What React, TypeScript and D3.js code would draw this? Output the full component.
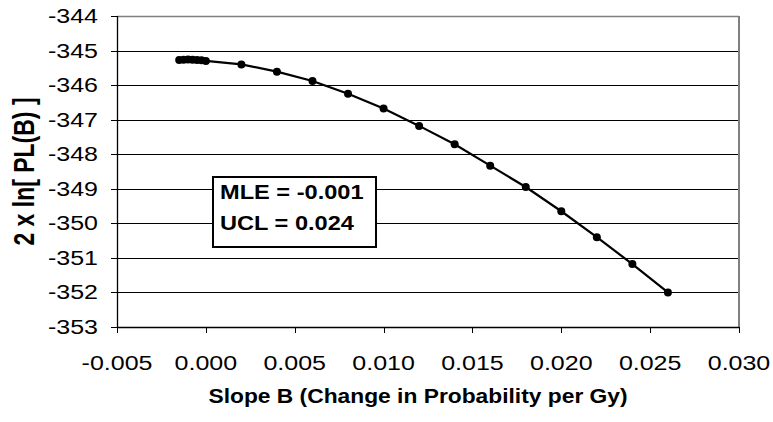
import React from "react";
import * as d3 from "d3";

const slopeB = [-0.0015, -0.00125, -0.001, -0.00075, -0.0005, -0.00025, 0, 0.002, 0.004, 0.006, 0.008, 0.01, 0.012, 0.014, 0.016, 0.018, 0.02, 0.022, 0.024, 0.026];
const logPL = [-345.27, -345.265, -345.26, -345.265, -345.27, -345.28, -345.3, -345.4, -345.61, -345.88, -346.25, -346.68, -347.18, -347.71, -348.33, -348.95, -349.65, -350.4, -351.18, -352.0];
const xTicks = [-0.005, 0, 0.005, 0.01, 0.015, 0.02, 0.025, 0.03];
const yTicks = [-344, -345, -346, -347, -348, -349, -350, -351, -352, -353];
const boxLines = ["MLE = -0.001", "UCL = 0.024"];
const xTitle = "Slope B (Change in Probability per Gy)";
const yTitle = "2 x ln[ PL(B) ]";

const W = 773, H = 422;
const L = 117, R = 739, T = 16, B = 327;
const SX = 1.25;
const FONT = "Arial, 'Liberation Sans', sans-serif";

export default function App() {
  const x = d3.scaleLinear().domain([-0.005, 0.03]).range([L, R]);
  const y = d3.scaleLinear().domain([-353, -344]).range([B, T]);
  const pts = slopeB.map((v, i) => [x(v), y(logPL[i])] as [number, number]);
  const line = d3.line().curve(d3.curveLinear)(pts) || "";
  const fmtX = (v: number) => (Math.abs(v) < 1e-12 ? "0.000" : v.toFixed(3));

  return (
    <svg width={W} height={H} style={{ position: "absolute", left: 0, top: 0, background: "#fff" }} fontFamily={FONT}>
      <rect x={0} y={0} width={W} height={H} fill="#fff" />
      {/* gridlines */}
      {yTicks.filter(t => t !== -344 && t !== -353).map(t => (
        <line key={"g" + t} x1={L} x2={R} y1={Math.round(y(t)) + 0.5} y2={Math.round(y(t)) + 0.5} stroke="#000" strokeWidth={1} />
      ))}
      {/* plot frame */}
      <line x1={L} x2={R} y1={T + 0.5} y2={T + 0.5} stroke="#808080" strokeWidth={1.5} />
      <line x1={R} x2={R} y1={T} y2={B} stroke="#808080" strokeWidth={2} />
      {/* axes */}
      <line x1={L + 0.5} x2={L + 0.5} y1={T} y2={B} stroke="#000" strokeWidth={1.3} />
      <line x1={L} x2={R} y1={B + 0.5} y2={B + 0.5} stroke="#000" strokeWidth={1.3} />
      {/* y ticks */}
      {yTicks.map(t => (
        <g key={"y" + t}>
          <line x1={L - 6} x2={L} y1={Math.round(y(t)) + 0.5} y2={Math.round(y(t)) + 0.5} stroke="#000" />
          <text transform={`translate(${98},${y(t) + 7}) scale(${SX},1)`} textAnchor="end" fontSize={20} fill="#000">{t}</text>
        </g>
      ))}
      {/* x ticks */}
      {xTicks.map(t => (
        <g key={"x" + t}>
          <line x1={Math.round(x(t)) + 0.5} x2={Math.round(x(t)) + 0.5} y1={B} y2={B + 6} stroke="#000" />
          <text transform={`translate(${x(t)},${370}) scale(${SX},1)`} textAnchor="middle" fontSize={20} fill="#000">{fmtX(t)}</text>
        </g>
      ))}
      {/* data line */}
      <path d={line} fill="none" stroke="#000" strokeWidth={2.2} />
      {pts.map((p, i) => (
        <circle key={"p" + i} cx={p[0]} cy={p[1]} r={4} fill="#000" />
      ))}
      {/* annotation box */}
      <rect x={213} y={177} width={163} height={70} fill="#fff" stroke="#000" strokeWidth={2} />
      {boxLines.map((s, i) => (
        <text key={"b" + i} transform={`translate(${220},${199 + i * 31}) scale(1.18,1)`} fontSize={20} fontWeight="bold" fill="#000">{s}</text>
      ))}
      {/* titles */}
      <text transform={`translate(${(L + R) / 2 - 10},${403}) scale(1.14,1)`} textAnchor="middle" fontSize={20} fontWeight="bold" fill="#000">{xTitle}</text>
      <text transform={`translate(${34},${(T + B) / 2}) rotate(-90) scale(1,${SX})`} textAnchor="middle" fontSize={23} fontWeight="bold" fill="#000">{yTitle}</text>
    </svg>
  );
}
